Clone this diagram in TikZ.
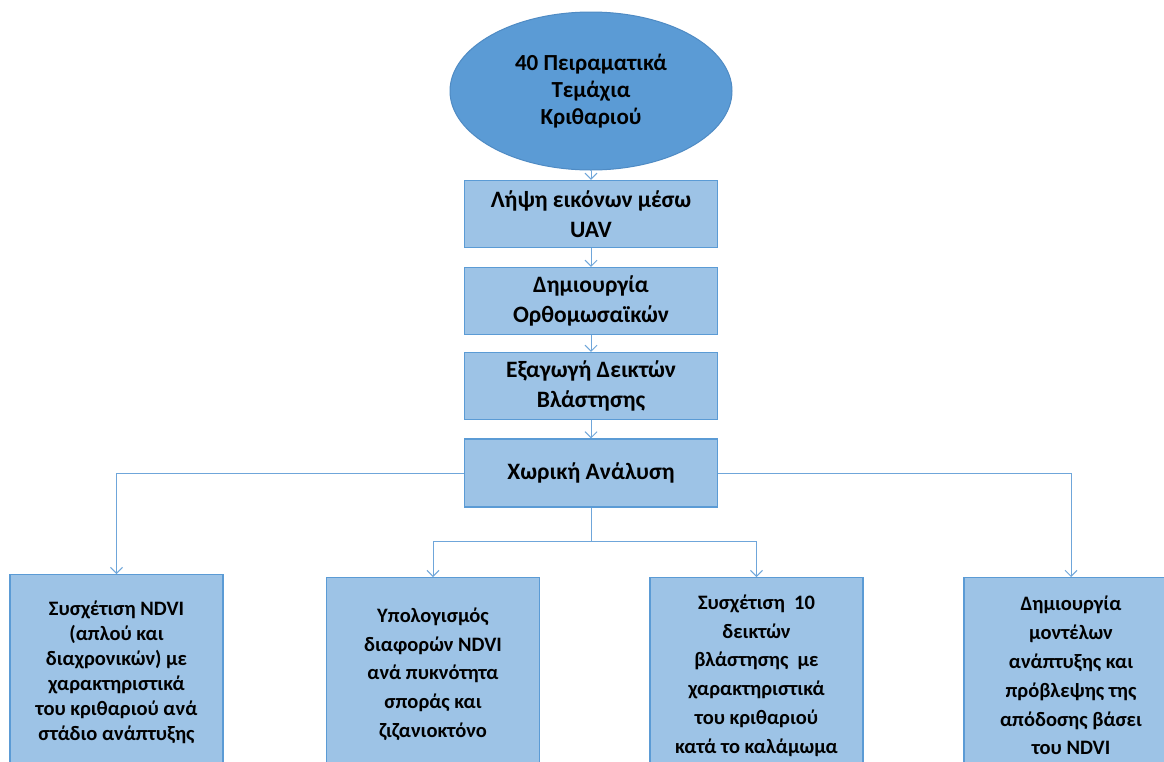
\documentclass[tikz,border=0pt]{standalone}
\usepackage{fontspec}
\setmainfont{Carlito}
\usetikzlibrary{arrows.meta,shapes.geometric}
\definecolor{plotblue}{HTML}{5B9BD5}
\definecolor{plotedge}{HTML}{4F8BC4}
\definecolor{boxblue}{HTML}{9DC3E6}
\definecolor{linkblue}{HTML}{6FA6DA}

\tikzset{
  startnode/.style={ellipse, fill=plotblue, draw=plotedge, line width=1pt, minimum width=282pt, minimum height=158pt, inner sep=0pt, align=center, font=\bfseries\fontsize{23}{26.7}\selectfont},
  stagebox/.style={rectangle, fill=boxblue, draw=plotblue, line width=1.2pt, minimum width=253pt, minimum height=67pt, inner sep=0pt, align=center, font=\bfseries\fontsize{23.5}{29.5}\selectfont},
  resultbox/.style={rectangle, anchor=north, fill=boxblue, draw=plotblue, line width=1.2pt, minimum width=213pt, minimum height=196pt, inner sep=0pt, align=center, font=\bfseries\fontsize{20.5}{28.8}\selectfont},
  link/.style={draw=linkblue, line width=1pt, -{Straight Barb[length=6pt,width=12pt]}}
}

\begin{document}
\begin{tikzpicture}[x=1pt,y=-1pt]
\useasboundingbox (0,0) rectangle (1164,761); %page size in px
\clip (0,0) rectangle (1164,761);
\fill[white] (0,0) rectangle (1164,761);
% main chain
\node[startnode] (plots) at (591,91) {40 Πειραματικά\\Τεμάχια\\Κριθαριού};
\node[stagebox] (uav) at (591,214) {Λήψη εικόνων μέσω\\UAV};
\node[stagebox] (ortho) at (591,301) {Δημιουργία\\Ορθομωσαϊκών};
\node[stagebox] (indices) at (591,386) {Εξαγωγή Δεικτών\\Βλάστησης};
\node[stagebox, minimum height=68pt] (spatial) at (591,473) {Χωρική Ανάλυση};
% results row (boxes run past the lower edge)
\node[resultbox, minimum height=195pt, font=\bfseries\fontsize{20.5}{25}\selectfont] (ndvistage) at (116.5,574) {Συσχέτιση NDVI\\(απλού και\\διαχρονικών) με\\χαρακτηριστικά\\του κριθαριού ανά\\στάδιο ανάπτυξης};
\node[resultbox, minimum height=193pt] (ndvidiff) at (433,577) {Υπολογισμός\\διαφορών NDVI\\ανά πυκνότητα\\σποράς και\\ζιζανιοκτόνο};
\node[resultbox] (tenindex) at (756.5,577) {Συσχέτιση\ \ 10\\δεικτών\\βλάστησης\ \ με\\χαρακτηριστικά\\του κριθαριού\\κατά το καλάμωμα};
\node[resultbox, minimum width=214pt] (models) at (1071,577) {Δημιουργία\\μοντέλων\\ανάπτυξης και\\πρόβλεψης της\\απόδοσης βάσει\\του NDVI};
% connectors
\draw[link] (plots) -- (uav);
\draw[link] (uav) -- (ortho);
\draw[link] (ortho) -- (indices);
\draw[link] (indices) -- (spatial);
\coordinate (split) at (591,541);
\draw[link] (spatial.west) -| (ndvistage.north);
\draw[link] (spatial.east) -| (models.north);
\draw[link] (spatial.south) -- (split) -| (ndvidiff.north);
\draw[link] (split) -| (tenindex.north);
\end{tikzpicture}
\end{document}
